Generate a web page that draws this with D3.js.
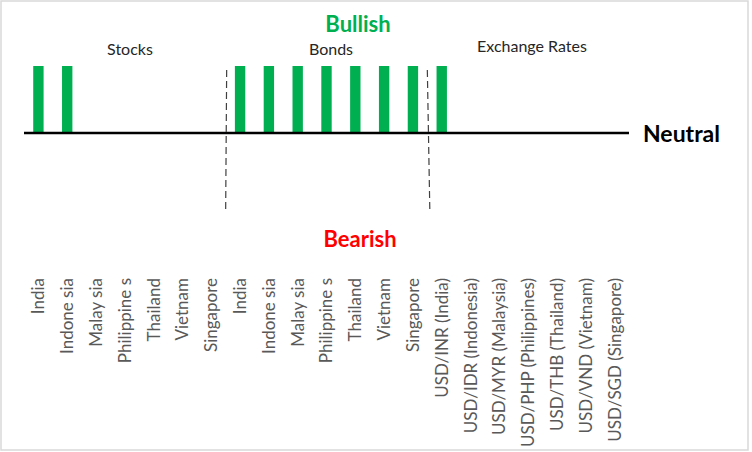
<!DOCTYPE html>
<html><head><meta charset="utf-8">
<script src="https://cdn.jsdelivr.net/npm/d3@7"></script>
<style>body{margin:0;background:#fff;}svg{display:block;}</style>
</head><body>
<svg id="c" width="752" height="452"></svg>
<script>
const categories = ["India","Indone sia","Malay sia","Philippine s","Thailand","Vietnam","Singapore",
  "India","Indone sia","Malay sia","Philippine s","Thailand","Vietnam","Singapore",
  "USD/INR (India)","USD/IDR (Indonesia)","USD/MYR (Malaysia)","USD/PHP (Philippines)","USD/THB (Thailand)","USD/VND (Vietnam)","USD/SGD (Singapore)"];
const values = [1,1,0,0,0,0,0, 1,1,1,1,1,1,1, 1,0,0,0,0,0,0];
const groups = ["Stocks","Bonds","Exchange Rates"];

const svg = d3.select("#c");
const font = "Lato, sans-serif";
svg.append("rect").attr("x",1).attr("y",1).attr("width",747).attr("height",449)
  .attr("fill","#fff").attr("stroke","#d9d9d9").attr("stroke-width",1.5);

const x = d3.scaleBand().domain(d3.range(categories.length)).range([24,629]).paddingInner(0.64).paddingOuter(0.32);
const y = d3.scaleLinear().domain([-1,1]).range([200,66]);

// bars
svg.append("g").selectAll("rect").data(values).join("rect")
  .attr("x",(d,i)=>x(i)).attr("width",x.bandwidth())
  .attr("y",d=>y(Math.max(0,d))).attr("height",d=>Math.abs(y(d)-y(0)))
  .attr("fill","#00b050");

// neutral line
svg.append("line").attr("x1",24).attr("x2",629).attr("y1",y(0)).attr("y2",y(0))
  .attr("stroke","#000").attr("stroke-width",2.5);

// dashed separators
const step = x.step();
[7,14].forEach((s,k)=>{
  const bx = x(s) - x.paddingInner()*step/2;
  svg.append("line").attr("x1",bx+(k?0:1)).attr("x2",bx+(k?2.5:0)).attr("y1",70).attr("y2",211)
    .attr("stroke","#404040").attr("stroke-width",1.2).attr("stroke-dasharray","7,4");
});

// axis labels
const ax = svg.append("g").attr("transform",`translate(0,278)`)
  .call(d3.axisBottom(x).tickSize(0).tickFormat(i=>categories[i]));
ax.select(".domain").remove();
ax.selectAll("text").attr("transform","rotate(-90)").attr("text-anchor","end")
  .attr("x",0).attr("y",0).attr("dx",0).attr("dy","0.35em")
  .attr("fill","#595959").style("font-family",font).style("font-size","17px");

// group labels
const groupCenters = [130,331,532];
svg.append("g").selectAll("text").data(groups).join("text")
  .attr("x",(d,i)=>groupCenters[i]).attr("y",(d,i)=>i==2?52:55).attr("text-anchor","middle")
  .attr("fill","#262626").style("font-family",font).style("font-size","16px").text(d=>d);

svg.append("text").attr("x",358).attr("y",32).attr("text-anchor","middle")
  .attr("fill","#00b050").style("font-family",font).style("font-weight","bold").style("font-size","22px").text("Bullish");
svg.append("text").attr("x",360).attr("y",247).attr("text-anchor","middle")
  .attr("fill","#ff0000").style("font-family",font).style("font-weight","bold").style("font-size","22px").text("Bearish");
svg.append("text").attr("x",643).attr("y",142)
  .attr("fill","#000").style("font-family",font).style("font-weight","bold").style("font-size","23px").text("Neutral");
</script>
</body></html>
